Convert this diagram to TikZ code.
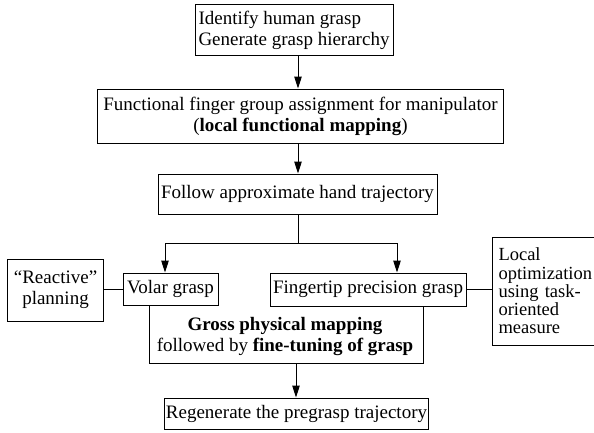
\documentclass[tikz,border=0pt]{standalone}
\usepackage{fontspec}
\setmainfont{Liberation Serif}
\usetikzlibrary{arrows.meta}
\begin{document}
\begin{tikzpicture}[x=1bp,y=-1bp,
  every node/.style={font=\fontsize{19bp}{21bp}\selectfont},
  box/.style={draw, line width=1bp, inner sep=0pt, align=center},
  conn/.style={line width=1bp},
  arr/.style={line width=1bp, -{Triangle[length=12bp,width=7.5bp]}}]
\useasboundingbox (0,0) rectangle (594,432);
\clip (0,0) rectangle (594,432);
% nodes
\node[box, minimum width=198bp, minimum height=51bp, align=left] (n1) at (294,30) {Identify human grasp\\Generate grasp hierarchy};
\node[box, minimum width=406bp, minimum height=54bp] (n2) at (300.5,116) {Functional finger group assignment for manipulator\\(\textbf{local functional mapping})};
\node[box, minimum width=279bp, minimum height=40bp] (n3) at (297.5,194) {Follow approximate hand trajectory};
\node[box, minimum width=95bp, minimum height=32bp] (volar) at (170.5,289) {Volar grasp};
\node[box, minimum width=196bp, minimum height=33bp] (fing) at (368,289.5) {Fingertip precision grasp};
\node[box, minimum width=95bp, minimum height=62bp] (react) at (55.5,290) {“Reactive”\\planning};
\node[box, anchor=west, text width=96bp, align=left, inner xsep=6bp, minimum height=108bp,
      font=\fontsize{18.5bp}{18.3bp}\selectfont] (local) at (492,291) {Local\\optimization\\using task-\\oriented\\measure};
\node[align=center, inner sep=0pt] (gross) at (285,336) {\textbf{Gross physical mapping}\\followed by \textbf{fine-tuning of grasp}};
\node[box, minimum width=264bp, minimum height=31bp] (regen) at (296.5,413.5) {Regenerate the pregrasp trajectory};
% coordinates
\coordinate (ax) at (298,0);
\coordinate (bj) at (298,243);
\coordinate (bl) at (165,243);
\coordinate (brr) at (397,243);
\coordinate (gl) at (149,363);
\coordinate (gr) at (423,363);
\coordinate (ga) at (296,363);
% connectors
\draw[arr] (n1.south -| ax) -- (n2.north -| ax);
\draw[arr] (n2.south -| ax) -- (n3.north -| ax);
\draw[conn] (n3.south -| ax) -- (bj);
\draw[conn] (bl) -- (brr);
\draw[arr] (bl) -- (volar.north -| bl);
\draw[arr] (brr) -- (fing.north -| brr);
\draw[conn] (volar.west -| react.east) -- (volar.west);
\draw[conn] (fing.east) -- (fing.east -| local.west);
\draw[conn] (volar.south -| gl) -- (gl) -- (gr) -- (fing.south -| gr);
\draw[arr] (ga) -- (regen.north -| ga);
\end{tikzpicture}
\end{document}
